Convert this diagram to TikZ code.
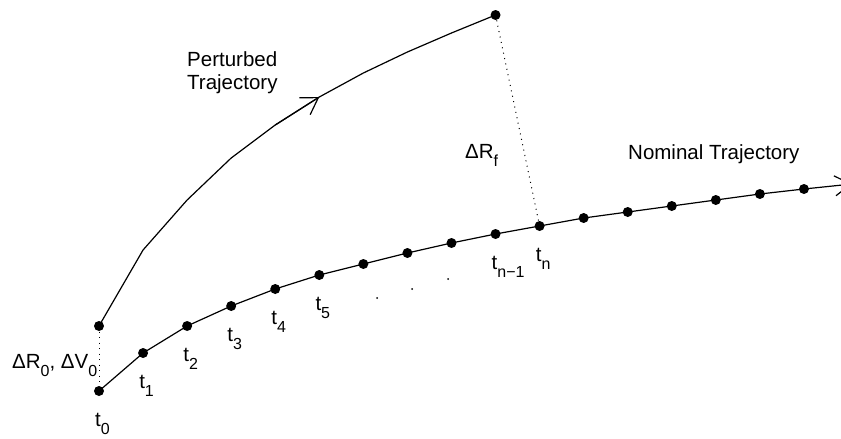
\documentclass[tikz,border=0pt]{standalone}
\usepackage{fontspec}
\setmainfont{Liberation Sans}
\usepackage{tikz}
\usetikzlibrary{arrows.meta}
\definecolor{ink}{RGB}{0,0,0}
\newcommand{\lowsub}[1]{\raisebox{-8pt}{\fontsize{16}{16}\selectfont #1}}

\begin{document}
\begin{tikzpicture}[
  x=1pt, y=-1pt,
  traj/.style={ink, line width=1.2pt, line join=round},
  gap/.style={ink, line width=1pt, dash pattern=on 1pt off 4.5pt},
  barb/.style={-{Straight Barb[length=16pt,width=20pt,line width=1.2pt]}},
  lbl/.style={font=\fontsize{20.5}{23}\selectfont, inner sep=0pt, anchor=base west}
]
\useasboundingbox (0,0) rectangle (841,439);
% nominal path
\foreach \y [count=\i from 0] in {391,353,326,306,289,275,264,253,243,234,226,218,212,206,200,194,189}
  \coordinate (n\i) at ({99+44.06*\i},\y);
\coordinate (nend) at (852,184);
% perturbed path
\foreach \y [count=\i from 0] in {326,250,200,158,125,97,73,52,33,15}
  \coordinate (p\i) at ({99+44.06*\i},\y);

\draw[gap] (p0) -- (n0);
\draw[gap] (p9) -- (n10);
\draw[traj] (p0) \foreach \i in {1,...,9} { -- (p\i) };
\draw[traj,barb] (p4) -- (p5);
\draw[traj,barb] (n0) \foreach \i in {1,...,16} { -- (n\i) } -- (nend);

\foreach \i in {0,...,16} \fill[ink] (n\i) circle (5);
\fill[ink] (p0) circle (5);
\fill[ink] (p9) circle (5);
\foreach \x/\y in {377/298,412/289,448/279} \fill[ink] (\x,\y) circle (1);

\foreach \i/\s in {0/0,1/1,2/2,3/3,4/4,5/5,9/{n−1},10/n}
  \node[lbl] (t\i) at ([shift={(-4,35)}]n\i) {t\lowsub{\s}};

\node[lbl] (dr0) at (12,368) {ΔR\lowsub{0}, ΔV\lowsub{0}};
\node[lbl] (drf) at (465,158) {ΔR\lowsub{f}};
\node[lbl] (nomlbl) at (628,159) {Nominal Trajectory};
\node[lbl, align=left] (perlbl) at (187,89) {Perturbed\\Trajectory};
\end{tikzpicture}
\end{document}
